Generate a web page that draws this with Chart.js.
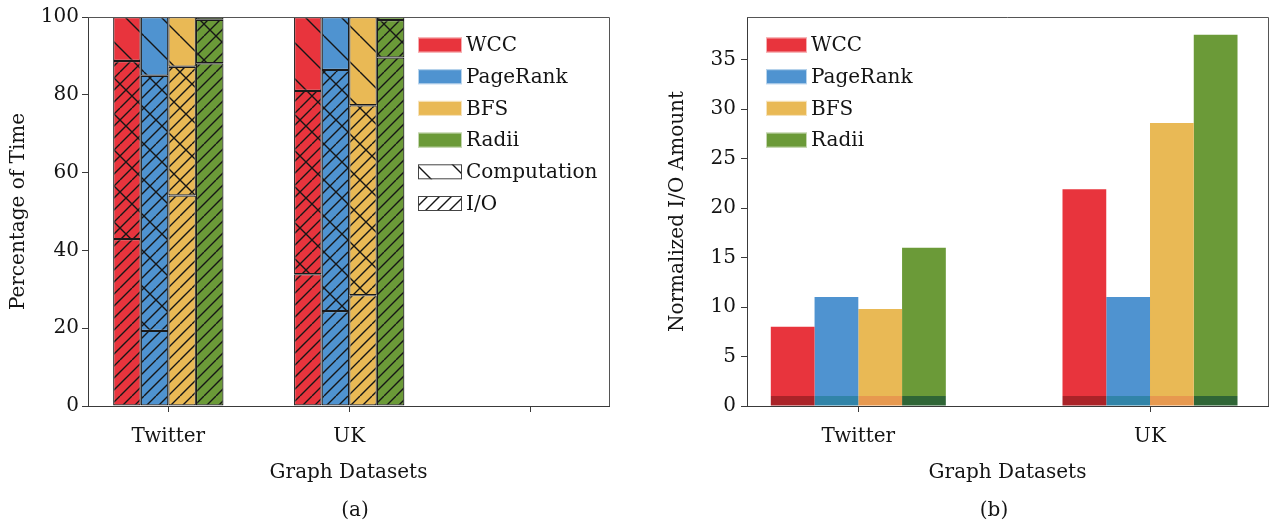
<!DOCTYPE html>
<html>
<head>
<meta charset="utf-8">
<script src="https://cdn.jsdelivr.net/npm/chart.js@4.4.0/dist/chart.umd.min.js"></script>
<style>
  html, body { margin: 0; padding: 0; background: #fff; }
  #wrap { position: relative; width: 1271px; height: 525px; }
  #timeChart { position: absolute; left: 0; top: 0; }
  #ioChart { position: absolute; left: 635px; top: 0; }
</style>
</head>
<body>
<div id="wrap">
  <canvas id="timeChart" width="635" height="525"></canvas>
  <canvas id="ioChart" width="636" height="525"></canvas>
</div>
<script>
// Graph datasets on the x axis (third slot of plot (a) is empty)
const graphDatasets = ['Twitter', 'UK', ''];
const algorithms = ['WCC', 'PageRank', 'BFS', 'Radii'];

// (a) share of run time (%) spent doing I/O, measured from the bottom
const wccIO = [88.7, 81.0, null];
const pagerankIO = [84.9, 86.4, null];
const bfsIO = [87.2, 77.3, null];
const radiiIO = [99.3, 99.2, null];

// (a) share of run time (%) spent computing, measured from the top
const wccComp = [57.1, 66.1, null];
const pagerankComp = [80.7, 75.6, null];
const bfsComp = [45.9, 71.5, null];
const radiiComp = [11.9, 10.4, null];

const timeTicks = [0, 20, 40, 60, 80, 100];

// (b) normalized I/O amount
const ioDatasets = ['Twitter', 'UK'];
const wccAmount = [8.0, 21.9];
const pagerankAmount = [11.0, 11.0];
const bfsAmount = [9.8, 28.6];
const radiiAmount = [16.0, 37.5];
const baselineAmount = [1, 1];

const FONT = 'DejaVu Serif';
const TEXT = '#141414';
const AXIS = '#3a3a3a';

const colors = ['#e8343d', '#4f93d0', '#e9b955', '#6b9a38'];
const darkColors = ['#aa2328', '#3184a8', '#e7994f', '#2f6536'];

// hatch tile: '/' lines every 12px, '\' lines every 36px
function hatch(fill, slash, backslash) {
    const size = 36;
    const tile = document.createElement('canvas');
    tile.width = size;
    tile.height = size;
    const c = tile.getContext('2d');
    c.fillStyle = fill;
    c.fillRect(0, 0, size, size);
    c.strokeStyle = '#161616';
    c.lineWidth = 1.4;
    c.beginPath();
    if (slash) {
        for (let k = -4; k <= 4; k++) {
            c.moveTo(k * 12, size);
            c.lineTo(k * 12 + size, 0);
        }
    }
    if (backslash) {
        for (let k = -1; k <= 1; k++) {
            c.moveTo(k * size, 0);
            c.lineTo(k * size + size, size);
        }
    }
    c.stroke();
    return c.createPattern(tile, 'repeat');
}

// legend drawn inside the plot area
const boxLegend = {
    id: 'boxLegend',
    afterDraw(chart, args, opts) {
        const ctx = chart.ctx;
        ctx.save();
        ctx.font = `20px "${FONT}"`;
        ctx.textBaseline = 'middle';
        opts.items.forEach((it, i) => {
            const y = opts.y + i * opts.gap;
            ctx.fillStyle = it.fill;
            ctx.fillRect(opts.x, y - opts.h / 2, opts.w, opts.h);
            ctx.lineWidth = 1;
            ctx.strokeStyle = it.stroke || 'rgba(255,255,255,0.6)';
            ctx.strokeRect(opts.x + 0.5, y - opts.h / 2 + 0.5, opts.w - 1, opts.h - 1);
            ctx.fillStyle = TEXT;
            ctx.fillText(it.text, opts.x + opts.w + 4, y + 1);
        });
        ctx.restore();
    }
};

// top/right frame and the (a)/(b) caption
const frameCaption = {
    id: 'frameCaption',
    afterDraw(chart, args, opts) {
        const {ctx, chartArea: a} = chart;
        ctx.save();
        ctx.strokeStyle = '#555';
        ctx.lineWidth = 1;
        ctx.beginPath();
        ctx.moveTo(a.left, a.top + 0.5);
        ctx.lineTo(a.right + 0.5, a.top + 0.5);
        ctx.lineTo(a.right + 0.5, a.bottom);
        ctx.stroke();
        ctx.font = `20px "${FONT}"`;
        ctx.fillStyle = TEXT;
        ctx.textAlign = 'center';
        ctx.textBaseline = 'middle';
        ctx.fillText(opts.text, opts.x, opts.y);
        ctx.restore();
    }
};

function xAxis(labels, min, max, height) {
    return {
        type: 'linear',
        min: min,
        max: max,
        offset: false,
        afterBuildTicks: s => { s.ticks = labels.map((_, i) => ({value: i})); },
        afterFit: s => { s.height = height; },
        grid: {offset: false, drawOnChartArea: false, drawTicks: true, tickLength: 6, color: AXIS},
        border: {display: true, color: AXIS, width: 1},
        ticks: {
            autoSkip: false, maxRotation: 0, padding: 13, color: TEXT,
            font: {family: FONT, size: 20},
            callback: v => labels[v] ?? ''
        },
        title: {display: true, text: 'Graph Datasets', color: TEXT, font: {family: FONT, size: 20}, padding: {bottom: 40}}
    };
}

function yAxis(title, width, titlePad, extra) {
    return Object.assign({
        grid: {drawOnChartArea: false, drawTicks: true, tickLength: 6, color: AXIS},
        border: {display: true, color: AXIS, width: 1},
        afterFit: s => { s.width = width; },
        ticks: {color: TEXT, padding: 3, font: {family: FONT, size: 20}},
        title: {display: true, text: title, color: TEXT, font: {family: FONT, size: 20}, padding: {top: titlePad}}
    }, extra);
}

// ---- (a) percentage of time ----
const timeIO = [wccIO, pagerankIO, bfsIO, radiiIO];
const timeComp = [wccComp, pagerankComp, bfsComp, radiiComp];
const ioPattern = colors.map(c => hatch(c, true, false));
const bothPattern = colors.map(c => hatch(c, true, true));
const compPattern = colors.map(c => hatch(c, false, true));

const timeSets = [];
algorithms.forEach((alg, a) => {
    const io = timeIO[a];
    const comp = timeComp[a];
    const ioOnly = io.map((v, i) => v == null ? null : 100 - comp[i]);
    const overlap = io.map((v, i) => v == null ? null : v - (100 - comp[i]));
    const compOnly = io.map(v => v == null ? null : 100 - v);
    [[ioOnly, ioPattern], [overlap, bothPattern], [compOnly, compPattern]].forEach(([vals, pat]) => {
        timeSets.push({
            label: alg,
            stack: alg,
            data: vals.map((v, i) => ({x: i, y: v})),
            backgroundColor: pat[a],
            borderColor: '#1a1a1a',
            borderWidth: 1.2,
            borderSkipped: false,
            categoryPercentage: 0.61,
            barPercentage: 1
        });
    });
});

new Chart(document.getElementById('timeChart'), {
    type: 'bar',
    data: {datasets: timeSets},
    options: {
        responsive: false,
        animation: false,
        layout: {padding: {top: 17, right: 26, left: 0, bottom: 0}},
        scales: {
            x: xAxis(graphDatasets, -0.444, 2.436, 119),
            y: yAxis('Percentage of Time', 88, 7, {
                stacked: true, min: 0, max: 100,
                afterBuildTicks: s => { s.ticks = timeTicks.map(v => ({value: v})); }
            })
        },
        plugins: {
            legend: {display: false},
            tooltip: {enabled: false},
            boxLegend: {
                x: 418, y: 45, gap: 31.7, w: 44, h: 15,
                items: [
                    ...algorithms.map((t, i) => ({text: t, fill: colors[i]})),
                    {text: 'Computation', fill: hatch('#fff', false, true), stroke: '#444'},
                    {text: 'I/O', fill: hatch('#fff', true, false), stroke: '#444'}
                ]
            },
            frameCaption: {text: '(a)', x: 355, y: 511}
        }
    },
    plugins: [boxLegend, frameCaption]
});

// ---- (b) normalized I/O amount ----
const amounts = [wccAmount, pagerankAmount, bfsAmount, radiiAmount];
const ioSets = [];
algorithms.forEach((alg, a) => {
    ioSets.push({
        label: alg + ' base',
        stack: alg,
        data: baselineAmount.map((v, i) => ({x: i, y: v})),
        backgroundColor: darkColors[a],
        categoryPercentage: 0.6,
        barPercentage: 1
    });
    ioSets.push({
        label: alg,
        stack: alg,
        data: amounts[a].map((v, i) => ({x: i, y: v - baselineAmount[i]})),
        backgroundColor: colors[a],
        categoryPercentage: 0.6,
        barPercentage: 1
    });
});

new Chart(document.getElementById('ioChart'), {
    type: 'bar',
    data: {datasets: ioSets},
    options: {
        responsive: false,
        animation: false,
        layout: {padding: {top: 17, right: 3, left: 0, bottom: 0}},
        scales: {
            x: xAxis(ioDatasets, -0.3816, 1.4045, 119),
            y: yAxis('Normalized I/O Amount', 112, 31, {
                stacked: true, min: 0, max: 39.3,
                ticks: {color: TEXT, padding: 5, stepSize: 5, includeBounds: false, font: {family: FONT, size: 20}}
            })
        },
        plugins: {
            legend: {display: false},
            tooltip: {enabled: false},
            boxLegend: {
                x: 131, y: 45, gap: 31.7, w: 41, h: 15,
                items: algorithms.map((t, i) => ({text: t, fill: colors[i]}))
            },
            frameCaption: {text: '(b)', x: 359, y: 511}
        }
    },
    plugins: [boxLegend, frameCaption]
});
</script>
</body>
</html>
